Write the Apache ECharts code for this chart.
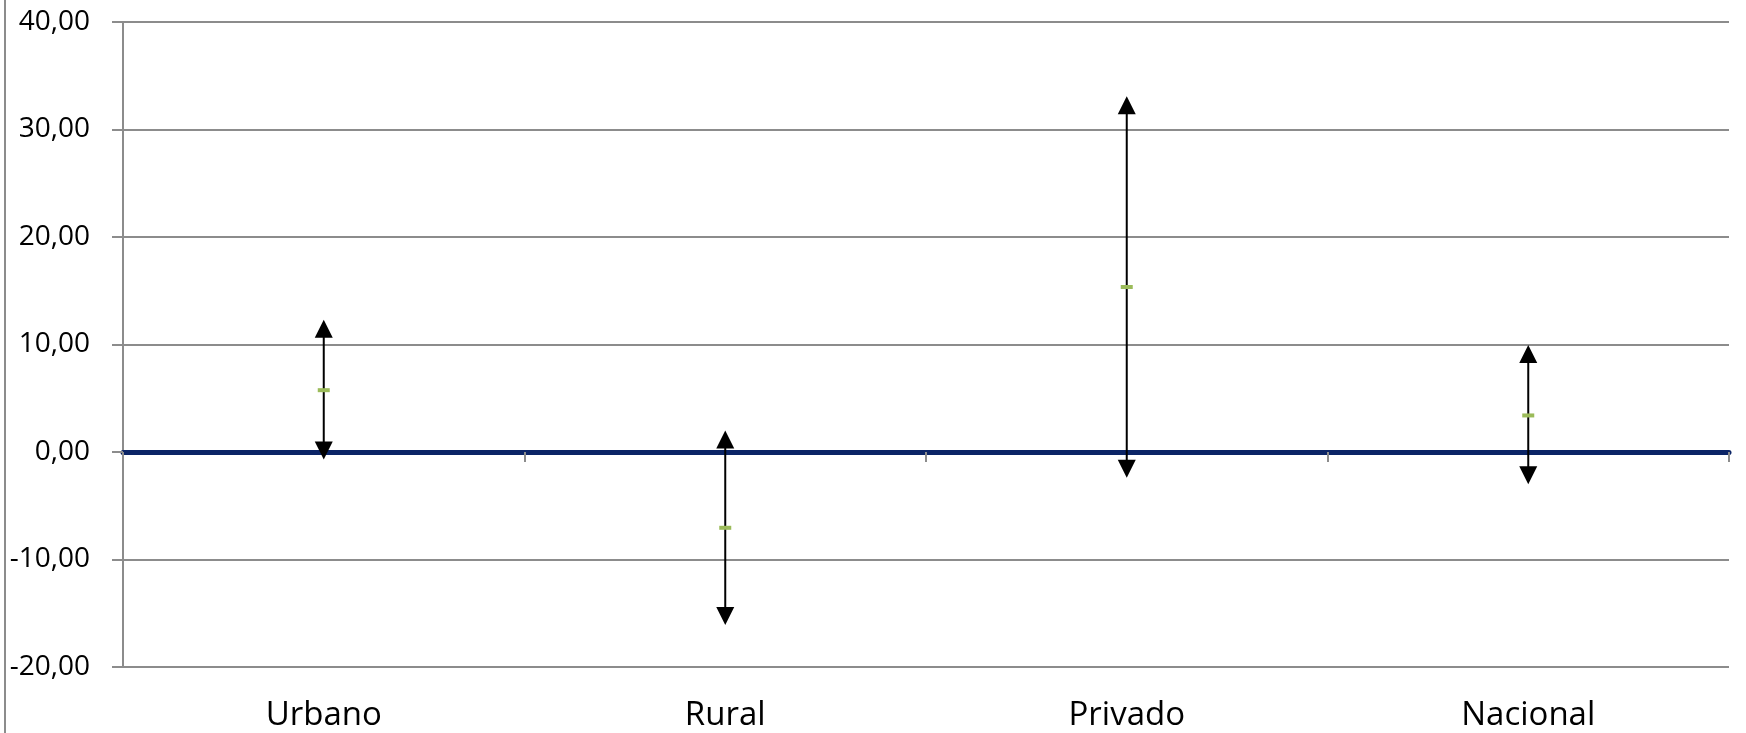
<!DOCTYPE html>
<html>
<head>
<meta charset="utf-8">
<script src="https://cdn.jsdelivr.net/npm/echarts@6/dist/echarts.min.js"></script>
<style>html,body{margin:0;padding:0;background:#fff}#c{width:1746px;height:733px}</style>
</head>
<body>
<div id="c"></div>
<script>
const categories = ['Urbano', 'Rural', 'Privado', 'Nacional'];
const means = [5.75, -7.05, 15.35, 3.4];
const lows = [-0.7, -16.1, -2.4, -3.0];
const highs = [12.3, 2.0, 33.1, 9.95];
const yTicks = { min: -20, max: 40, interval: 10 };

const chart = echarts.init(document.getElementById('c'));
const FONT = '"Open Sans", sans-serif';
const data = categories.map((c, i) => [i, means[i], lows[i], highs[i]]);

chart.setOption({
  animation: false,
  backgroundColor: '#fff',
  grid: { left: 123, right: 17, top: 22, bottom: 66, containLabel: false },
  xAxis: [
    {
      type: 'category', data: categories, position: 'bottom',
      axisLine: { show: false, onZero: false },
      axisTick: { show: false },
      axisLabel: { margin: 32, fontSize: 33, fontFamily: FONT, color: '#000' },
      splitLine: { show: false }
    },
    {
      type: 'category', data: categories, position: 'bottom',
      axisLine: { show: true, onZero: true, lineStyle: { color: '#0B2466', width: 5 } },
      axisTick: { show: true, inside: false, length: 10, lineStyle: { color: '#8c8c8c', width: 2 } },
      axisLabel: { show: false },
      splitLine: { show: false }
    }
  ],
  yAxis: {
    type: 'value', min: yTicks.min, max: yTicks.max, interval: yTicks.interval,
    axisLine: { show: true, lineStyle: { color: '#8c8c8c', width: 2 } },
    axisTick: { show: true, inside: false, length: 11, lineStyle: { color: '#8c8c8c', width: 2 } },
    axisLabel: {
      margin: 33, fontSize: 28, fontFamily: FONT, color: '#000',
      formatter: v => v.toFixed(2).replace('.', ',')
    },
    splitLine: { show: true, lineStyle: { color: '#8c8c8c', width: 2 } }
  },
  graphic: [
    { type: 'line', shape: { x1: 5, y1: 0, x2: 5, y2: 733 }, style: { stroke: '#8c8c8c', lineWidth: 2 } }
  ],
  series: [{
    type: 'custom',
    xAxisIndex: 0,
    z: 10,
    encode: { x: 0, y: [1, 2, 3] },
    data: data,
    renderItem: function (params, api) {
      const x = api.value(0);
      const pm = api.coord([x, api.value(1)]);
      const pl = api.coord([x, api.value(2)]);
      const ph = api.coord([x, api.value(3)]);
      const aw = 9, ah = 18;
      const cx = pm[0];
      return {
        type: 'group',
        children: [
          { type: 'line', shape: { x1: cx, y1: ph[1] + ah * 0.6, x2: cx, y2: pl[1] - ah * 0.6 }, style: { stroke: '#000', lineWidth: 2 } },
          { type: 'polygon', shape: { points: [[cx, ph[1]], [cx - aw, ph[1] + ah], [cx + aw, ph[1] + ah]] }, style: { fill: '#000' } },
          { type: 'polygon', shape: { points: [[cx, pl[1]], [cx - aw, pl[1] - ah], [cx + aw, pl[1] - ah]] }, style: { fill: '#000' } },
          { type: 'rect', shape: { x: cx - 6, y: pm[1] - 2, width: 12, height: 4 }, style: { fill: '#9BBB59' } }
        ]
      };
    }
  }]
});
</script>
</body>
</html>
